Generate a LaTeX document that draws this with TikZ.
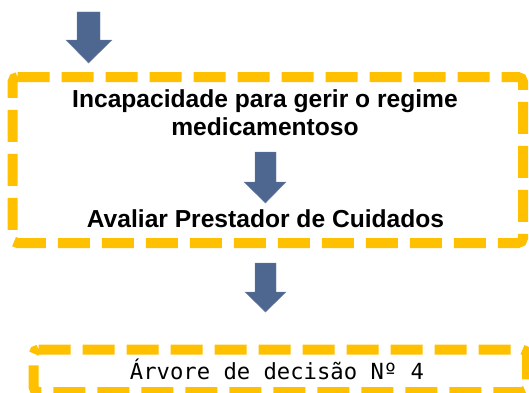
\documentclass[tikz,border=0pt]{standalone}
\usepackage{fontspec}
\setmainfont{Liberation Sans}
\setmonofont{DejaVu Sans Mono}
\definecolor{gold}{HTML}{FFC000}
\definecolor{arrowblue}{HTML}{4E6790}
\tikzset{
  dashbox/.style={draw=gold, line width=10pt, dash pattern=on 32pt off 12pt, rounded corners=5pt},
  blockarrow/.style={fill=arrowblue, draw=arrowblue!80!white, line width=0.4pt},
  boldtxt/.style={font=\fontsize{24.6}{28}\selectfont\bfseries, align=center, inner sep=0pt},
  monotxt/.style={font=\fontsize{22.2}{26}\selectfont\ttfamily, inner sep=0pt},
}
\begin{document}
\begin{tikzpicture}[x=1pt,y=1pt]
\useasboundingbox (0,0) rectangle (529,392);
\begin{scope}
\clip (0,0) rectangle (529,392);
% box 1
\draw[dashbox] (12.5,315) -- (523,315) -- (523,149) -- (12.5,149) -- cycle;
% box 2
\draw[dashbox] (33.5,42.5) -- (527,42.5) -- (527,0) -- (33.5,0) -- cycle;
\end{scope}
% texts
\node[boldtxt, anchor=base] (t1a) at (265,285) {Incapacidade para gerir o regime};
\node[boldtxt, anchor=base] (t1b) at (265,257) {medicamentoso};
\node[boldtxt, anchor=base] (t2) at (265.5,165) {Avaliar Prestador de Cuidados};
\node[monotxt, anchor=base] (t3) at (277,13) {Árvore de decisão Nº 4};
% arrows
\draw[blockarrow] (77,380) -- (100,380) -- (100,352) -- (112,352) -- (88.5,329) -- (66,352) -- (77,352) -- cycle;
\draw[blockarrow] (255,240) -- (276,240) -- (276,210) -- (286,210) -- (265.5,189) -- (244,210) -- (255,210) -- cycle;
\draw[blockarrow] (255,129) -- (276,129) -- (276,100) -- (286,100) -- (265.5,80) -- (245,100) -- (255,100) -- cycle;
\end{tikzpicture}
\end{document}
